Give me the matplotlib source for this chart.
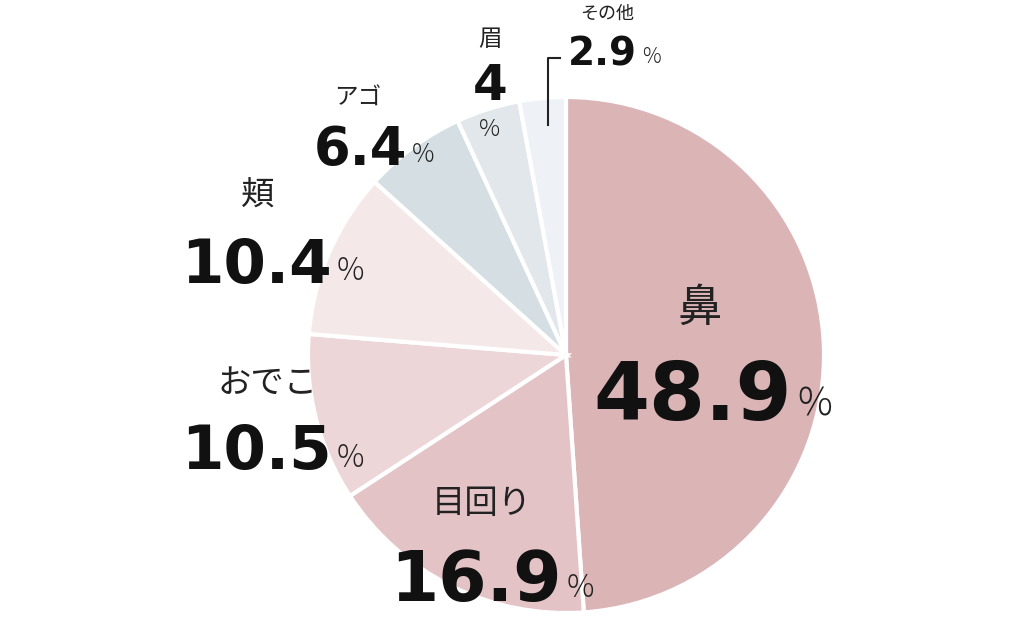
import matplotlib.pyplot as plt

plt.rcParams['font.family'] = ['Noto Sans CJK JP', 'DejaVu Sans']

labels = ['鼻', '目回り', 'おでこ', '頬', 'アゴ', '眉', 'その他']
values = [48.9, 16.9, 10.5, 10.4, 6.4, 4, 2.9]
value_text = ['48.9', '16.9', '10.5', '10.4', '6.4', '4', '2.9']
colors = ['#dbb4b6', '#e4c3c6', '#edd6d7', '#f5e8e8', '#d4dee3', '#e2e7ec', '#eef2f6']

W, H = 1024, 629
fig = plt.figure(figsize=(W / 100, H / 100), dpi=100)
ax = fig.add_axes([0, 0, 1, 1])

# pie in pixel coords (y flipped: bottom origin)
cx, cy, r = 566, H - 355, 258
ax.pie(values, colors=colors, startangle=90, counterclock=False,
       center=(cx, cy), radius=r, frame=True,
       wedgeprops=dict(edgecolor='white', linewidth=3))
ax.set_xlim(0, W)
ax.set_ylim(0, H)
ax.set_aspect('equal')
ax.axis('off')

def y(p):
    return H - p

# (name xy, name size, number anchor xy (right edge), number size, pct size)
layout = [
    ((700, 308), 32, (792, 398), 58, 28),
    ((482, 503), 24, (562, 582), 50, 22),
    ((268, 383), 24, (332, 453), 44, 22),
    ((258, 196), 24, (332, 266), 44, 22),
    ((358, 98), 17, (407, 150), 38, 18),
    ((490, 40), 17, None, 36, 17),
    ((607, 14), 13, (637, 54), 28, 15),
]
for i, (nxy, ns, vxy, vs, ps) in enumerate(layout):
    ax.text(nxy[0], y(nxy[1]), labels[i], fontsize=ns, ha='center', va='center',
            color='#222222')
    if vxy is None:
        ax.text(490, y(86), value_text[i], fontsize=vs, fontweight='bold',
                family='DejaVu Sans', ha='center', va='center', color='#111111')
        ax.text(490, y(130), '%', fontsize=ps, ha='center', va='center',
                color='#222222', fontweight='light')
    else:
        ax.text(vxy[0], y(vxy[1]), value_text[i], fontsize=vs, fontweight='bold',
                family='DejaVu Sans', ha='right', va='center', color='#111111')
        ax.text(vxy[0] + 5, y(vxy[1] + vs * 0.12), '%', fontsize=ps, ha='left',
                va='center', color='#222222', fontweight='light')

# leader line for その他
ax.plot([548, 548, 560], [y(125), y(58), y(58)], color='#222222', lw=1.5)

fig.savefig('out.png', dpi=100, facecolor='white')
